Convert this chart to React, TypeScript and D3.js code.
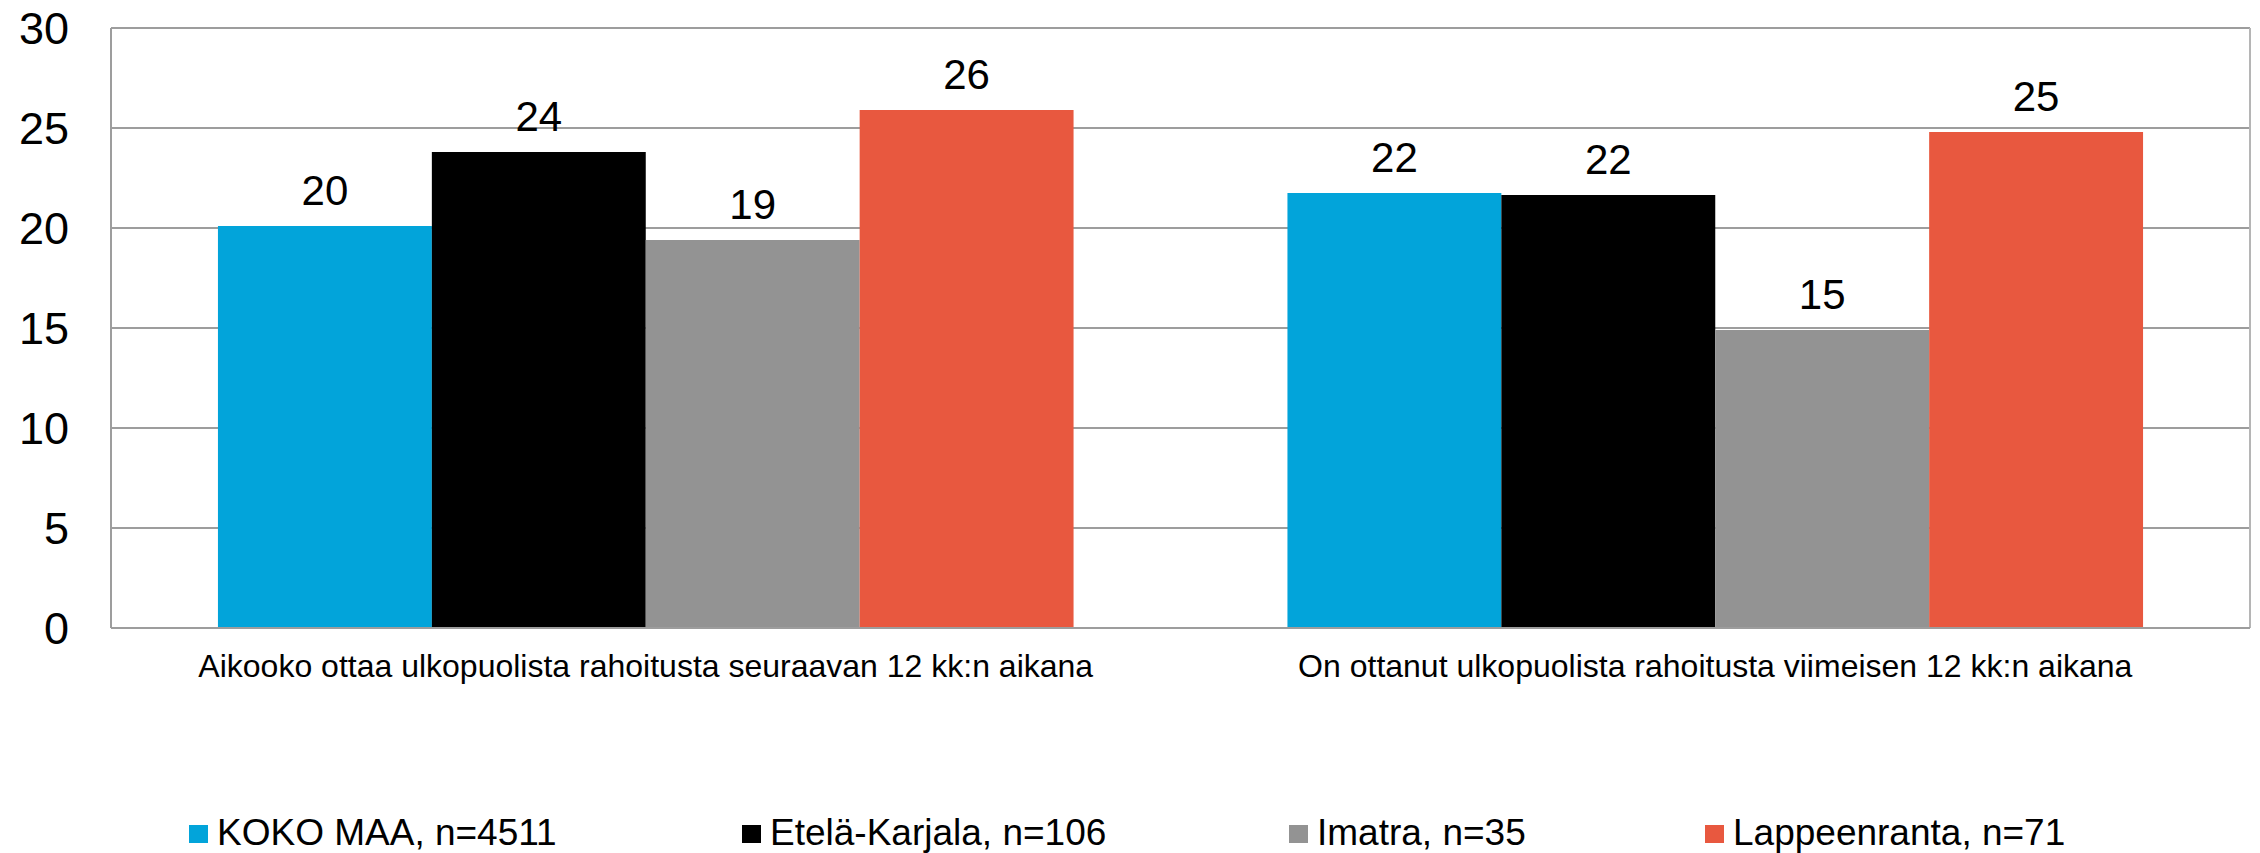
import { useEffect, useRef } from "react";
import * as d3 from "d3";

const categories = [
  "Aikooko ottaa ulkopuolista rahoitusta seuraavan 12 kk:n aikana",
  "On ottanut ulkopuolista rahoitusta viimeisen 12 kk:n aikana",
];
const seriesNames = [
  "KOKO MAA, n=4511",
  "Etelä-Karjala, n=106",
  "Imatra, n=35",
  "Lappeenranta, n=71",
];
const seriesColors = ["#02A4DA", "#000000", "#939393", "#E8583F"];
const values = [
  [20.1, 21.75],
  [23.8, 21.65],
  [19.4, 14.9],
  [25.9, 24.8],
];
const yTicks = [0, 5, 10, 15, 20, 25, 30];
const legendX = [189, 742, 1289, 1705];

const W = 2260,
  H = 853,
  margin = { left: 111, right: 10, top: 28, bottom: 225 };
const font = "'Liberation Sans', Arial, sans-serif";

export default function App() {
  const ref = useRef<SVGSVGElement>(null);

  useEffect(() => {
    const svg = d3.select(ref.current);
    svg.selectAll("*").remove();

    const x0 = d3
      .scaleBand<number>()
      .domain(d3.range(categories.length))
      .range([margin.left, W - margin.right])
      .paddingInner(0.2)
      .paddingOuter(0.1);
    const x1 = d3
      .scaleBand<number>()
      .domain(d3.range(seriesNames.length))
      .range([0, x0.bandwidth()]);
    const y = d3
      .scaleLinear()
      .domain([0, 30])
      .range([H - margin.bottom, margin.top]);

    // grid
    svg
      .append("g")
      .selectAll("line")
      .data(yTicks)
      .enter()
      .append("line")
      .attr("x1", margin.left)
      .attr("x2", W - margin.right)
      .attr("y1", (d) => y(d))
      .attr("y2", (d) => y(d))
      .attr("stroke", "#9d9d9d")
      .attr("stroke-width", 2);

    // bars
    const groups = svg
      .append("g")
      .selectAll("g")
      .data(values)
      .enter()
      .append("g")
      .attr("fill", (_, i) => seriesColors[i]);

    groups
      .selectAll("rect")
      .data((d, si) => d.map((v, ci) => ({ v, ci, si })))
      .enter()
      .append("rect")
      .attr("x", (d) => x0(d.ci)! + x1(d.si)!)
      .attr("width", x1.bandwidth())
      .attr("y", (d) => y(d.v))
      .attr("height", (d) => y(0) - y(d.v));

    groups
      .selectAll("text")
      .data((d, si) => d.map((v, ci) => ({ v, ci, si })))
      .enter()
      .append("text")
      .attr("x", (d) => x0(d.ci)! + x1(d.si)! + x1.bandwidth() / 2)
      .attr("y", (d) => y(d.v) - 21)
      .attr("text-anchor", "middle")
      .attr("font-family", font)
      .attr("font-size", 42)
      .attr("fill", "#000")
      .text((d) => Math.round(d.v));

    // frame: left axis, right border
    svg
      .append("line")
      .attr("x1", margin.left)
      .attr("x2", margin.left)
      .attr("y1", y(30))
      .attr("y2", y(0))
      .attr("stroke", "#9d9d9d")
      .attr("stroke-width", 2);
    svg
      .append("line")
      .attr("x1", W - margin.right)
      .attr("x2", W - margin.right)
      .attr("y1", y(30))
      .attr("y2", y(0))
      .attr("stroke", "#b5b5b5")
      .attr("stroke-width", 2);
    svg
      .append("line")
      .attr("x1", margin.left)
      .attr("x2", W - margin.right)
      .attr("y1", y(0))
      .attr("y2", y(0))
      .attr("stroke", "#9d9d9d")
      .attr("stroke-width", 2);

    // y tick labels
    svg
      .append("g")
      .selectAll("text")
      .data(yTicks)
      .enter()
      .append("text")
      .attr("x", 69)
      .attr("y", (d) => y(d) + 16)
      .attr("text-anchor", "end")
      .attr("font-family", font)
      .attr("font-size", 45)
      .text((d) => d);

    // category labels
    svg
      .append("g")
      .selectAll("text")
      .data(categories)
      .enter()
      .append("text")
      .attr("x", (_, i) => x0(i)! + x0.bandwidth() / 2)
      .attr("y", 677)
      .attr("text-anchor", "middle")
      .attr("font-family", font)
      .attr("font-size", 32)
      .text((d) => d);

    // legend
    const leg = svg
      .append("g")
      .selectAll("g")
      .data(seriesNames)
      .enter()
      .append("g")
      .attr("transform", (_, i) => `translate(${legendX[i]},825)`);
    leg
      .append("rect")
      .attr("width", 19)
      .attr("height", 18)
      .attr("fill", (_, i) => seriesColors[i]);
    leg
      .append("text")
      .attr("x", 28)
      .attr("y", 20)
      .attr("font-family", font)
      .attr("font-size", 37)
      .text((d) => d);
  }, []);

  return (
    <svg
      ref={ref}
      width={W}
      height={H}
      style={{ position: "absolute", left: 0, top: 0, background: "#fff" }}
    />
  );
}
